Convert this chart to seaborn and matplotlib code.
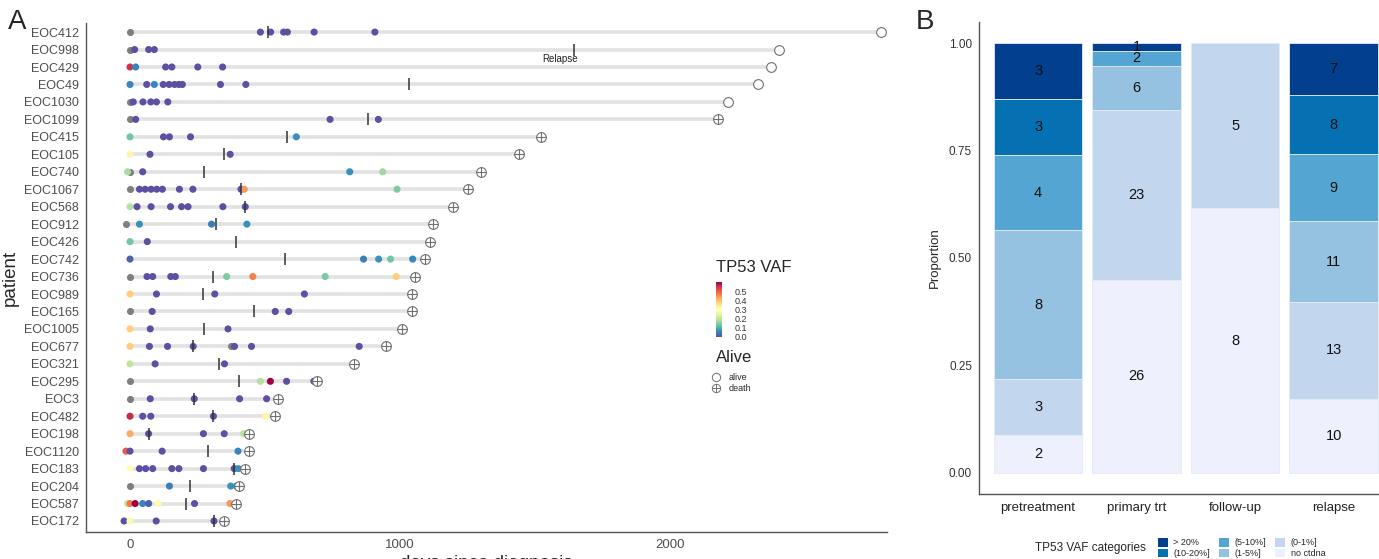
import numpy as np
import pandas as pd
import matplotlib
matplotlib.use('Agg')
import matplotlib.pyplot as plt
import seaborn as sns
from matplotlib.lines import Line2D
from matplotlib.patches import Patch
from matplotlib.colors import Normalize
from matplotlib.cm import ScalarMappable

nan = np.nan

# ---- panel A: per-patient timelines ----
patients = ['EOC412', 'EOC998', 'EOC429', 'EOC49', 'EOC1030', 'EOC1099', 'EOC415',
            'EOC105', 'EOC740', 'EOC1067', 'EOC568', 'EOC912', 'EOC426', 'EOC742',
            'EOC736', 'EOC989', 'EOC165', 'EOC1005', 'EOC677', 'EOC321', 'EOC295',
            'EOC3', 'EOC482', 'EOC198', 'EOC1120', 'EOC183', 'EOC204', 'EOC587', 'EOC172']
followup_days = [2780, 2405, 2376, 2327, 2214, 2177, 1522, 1442, 1301, 1252, 1198, 1124,
                 1113, 1092, 1056, 1043, 1045, 1009, 947, 830, 693, 550, 537, 442, 442,
                 426, 403, 394, 348]
status = ['alive'] * 5 + ['death'] * 24
relapse_days = [512, 1644, nan, 1032, nan, 882, 582, 349, 273, 411, 427, 317, 392, 574,
                309, 271, 460, 275, 234, 330, 403, 238, 309, 69, 288, 386, 224, 209, 311]

sample_days = [
    [0, 483, 521, 569, 583, 682, 907],
    [0, 17, 69, 90],
    [0, 21, 132, 155, 251, 343],
    [0, 62, 90, 123, 145, 165, 181, 194, 335, 429],
    [0, 12, 48, 77, 98, 140],
    [0, 21, 741, 920],
    [0, 124, 146, 224, 616],
    [0, 74, 371],
    [-9, 0, 47, 814, 936],
    [0, 35, 56, 78, 99, 120, 183, 233, 411, 423, 989],
    [0, 26, 78, 150, 191, 215, 344, 427],
    [-15, 35, 302, 433],
    [0, 64],
    [0, 865, 921, 965, 1047],
    [0, 63, 84, 151, 168, 358, 455, 723, 986],
    [0, 98, 314, 646],
    [0, 82, 538, 588],
    [0, 75, 363],
    [0, 72, 139, 234, 374, 387, 450, 849],
    [0, 93, 350],
    [0, 483, 520, 580, 681],
    [0, 75, 238, 406, 506],
    [0, 47, 77, 309, 502],
    [0, 69, 272, 349, 421],
    [-15, 0, 119, 400],
    [0, 35, 58, 84, 155, 181, 272, 386, 401],
    [0, 146, 373, 394],
    [-9, 0, 19, 47, 69, 104, 239, 370],
    [-22, 0, 97, 311],
]
sample_vaf = [
    [nan, 0, 0, 0, 0, 0, 0],
    [nan, 0, 0, 0],
    [0.55, 0.06, 0, 0, 0, 0],
    [0.06, 0, 0.06, 0, 0, 0, 0, 0, 0, 0],
    [nan, 0, 0, 0, 0, 0],
    [nan, 0, 0, 0],
    [0.13, 0, 0, 0, 0.07],
    [0.32, 0, 0],
    [0.18, nan, 0, 0.07, 0.17],
    [nan, 0, 0, 0, 0, 0, 0, 0, 0, 0.44, 0.14],
    [0.19, 0, 0, 0, 0, 0, 0, 0],
    [nan, 0.07, 0.05, 0.07],
    [0.13, 0],
    [0.02, 0.05, 0.07, 0.13, 0.06],
    [nan, 0, 0, 0, 0, 0.14, 0.46, 0.14, 0.38],
    [0.38, 0, 0, 0],
    [nan, 0, 0, 0],
    [0.38, 0, 0],
    [0.38, 0, 0, 0, nan, 0, 0, 0],
    [0.2, 0, 0],
    [nan, 0.19, 0.6, 0, 0],
    [nan, 0, 0, 0, 0],
    [0.56, 0, 0, 0, 0.32],
    [0.42, 0, 0, 0, 0.19],
    [0.5, 0, 0, 0.06],
    [0.3, 0, 0, 0, 0, 0, 0, 0, 0.07],
    [nan, 0.05, 0.07, 0.07],
    [0.2, 0.47, 0.6, 0.06, 0.02, 0.31, 0, 0.44],
    [0, 0.28, 0, 0],
]

# ---- panel B: VAF categories per phase ----
phases = ['pretreatment', 'primary trt', 'follow-up', 'relapse']
vaf_cats = ['> 20%', '(10-20%]', '(5-10%]', '(1-5%]', '(0-1%]', 'no ctdna']
cat_colors = ['#023f8e', '#0570b2', '#55a5d2', '#94c2e0', '#c2d6ee', '#eef1fd']
n_gt20 = [3, 1, 0, 7]
n_10_20 = [3, 0, 0, 8]
n_5_10 = [4, 2, 0, 9]
n_1_5 = [8, 6, 0, 11]
n_0_1 = [3, 23, 5, 13]
n_none = [2, 26, 8, 10]

sns.set_theme(style='white')
plt.rcParams['font.family'] = ['Liberation Sans', 'DejaVu Sans']

W, H = 1379, 559
fig = plt.figure(figsize=(W / 100, H / 100), dpi=100)

def fx(px):
    return px / W

def fy(py):
    return 1 - py / H

axA = fig.add_axes([fx(86), fy(532), fx(887 - 86), (532 - 23) / H])
axB = fig.add_axes([fx(979), fy(494), fx(1379 - 979) + 0.01, (494 - 22) / H])

rows = np.arange(len(patients))
samples = pd.DataFrame({
    'patient': np.repeat(patients, [len(d) for d in sample_days]),
    'day': np.concatenate(sample_days),
    'vaf': np.concatenate(sample_vaf),
})
samples['row'] = samples['patient'].map({p: i for i, p in enumerate(patients)})

axA.hlines(rows, 0, followup_days, color='#e2e2e2', lw=2.6, zorder=1)
sns.scatterplot(data=samples[samples['vaf'].isna()], x='day', y='row', color='#7f7f7f',
                s=26, linewidth=0, ax=axA, zorder=3)
sns.scatterplot(data=samples.dropna(), x='day', y='row', hue='vaf', palette='Spectral_r',
                hue_norm=(0, 0.6), s=26, linewidth=0, legend=False, ax=axA, zorder=3)
axA.plot(relapse_days, rows, ls='none', marker='|', ms=8, mew=1.1, color='#333333', zorder=4)

fu = np.array(followup_days)
st = np.array(status)
axA.plot(fu, rows, ls='none', marker='o', ms=7, mfc='white', mec='#707070', mew=0.8, zorder=5)
dead = st == 'death'
axA.plot(fu[dead], rows[dead], ls='none', marker='+', ms=7, mec='#707070', mew=0.8, zorder=6)
axA.text(1594, 1.55, 'Relapse', ha='center', va='center', fontsize=7, color='#222222')

axA.set_xlim(-163, 2804)
axA.set_ylim(28.63, -0.52)
axA.set_yticks(rows)
axA.set_yticklabels(patients)
axA.set_xticks([0, 1000, 2000])
axA.tick_params(axis='y', labelsize=9, colors='#4d4d4d', length=3, width=0.8, pad=2)
axA.tick_params(axis='x', labelsize=9.5, colors='#4d4d4d', length=3, width=0.8, pad=2)
axA.set_ylabel('patient', fontsize=13.5, labelpad=4)
axA.set_xlabel('days since diagnosis', fontsize=13.5, labelpad=3)
for s in ['top', 'right']:
    axA.spines[s].set_visible(False)
for s in ['left', 'bottom']:
    axA.spines[s].set_color('#555555')
    axA.spines[s].set_linewidth(1.0)

# colour legend
fig.text(fx(716), fy(268), 'TP53 VAF', fontsize=12, va='center', ha='left')
cax = fig.add_axes([fx(716), fy(337), fx(6), 55 / H])
sm = ScalarMappable(norm=Normalize(0, 0.61), cmap='Spectral_r')
cb = fig.colorbar(sm, cax=cax, ticks=[0, 0.1, 0.2, 0.3, 0.4, 0.5])
cb.outline.set_visible(False)
cb.ax.set_yticklabels(['0.0', '0.1', '0.2', '0.3', '0.4', '0.5'])
cax.tick_params(length=0, labelsize=6.5, pad=9, colors='#333333')

fig.text(fx(716), fy(358), 'Alive', fontsize=12, va='center', ha='left')
h_alive = Line2D([], [], ls='none', marker='o', ms=6, mfc='white', mec='#707070', mew=0.7)
h_dead = (Line2D([], [], ls='none', marker='o', ms=6, mfc='white', mec='#707070', mew=0.7),
          Line2D([], [], ls='none', marker='+', ms=6, mec='#707070', mew=0.7))
fig.legend([h_alive, h_dead], ['alive', 'death'], loc='upper left',
           bbox_to_anchor=(fx(711), fy(373)), frameon=False, fontsize=6.5,
           handlelength=1.0, handletextpad=0.9, labelspacing=0.2,
           borderaxespad=0, borderpad=0)

# ---- panel B ----
count_cols = [n_gt20, n_10_20, n_5_10, n_1_5, n_0_1, n_none]
bars = pd.DataFrame({
    'phase': np.tile(phases, len(vaf_cats)),
    'cat': np.repeat(vaf_cats, len(phases)),
    'n': np.concatenate(count_cols),
})
bars['phase'] = pd.Categorical(bars['phase'], categories=phases, ordered=True)
sns.histplot(data=bars, x='phase', hue='cat', weights='n', multiple='fill', discrete=True,
             shrink=0.9, hue_order=vaf_cats, palette=cat_colors, alpha=1,
             edgecolor='#e4ecf8', linewidth=0.6, legend=False, ax=axB)

# count labels in the middle of each segment
stack = np.array(count_cols[::-1], dtype=float)   # bottom to top
totals = stack.sum(axis=0)
tops = np.cumsum(stack, axis=0) / totals
mids = tops - stack / totals / 2
for ci in range(stack.shape[0]):
    for pi in range(len(phases)):
        if stack[ci, pi] > 0:
            axB.text(pi, mids[ci, pi], str(int(stack[ci, pi])), ha='center', va='center',
                     fontsize=10.5, color='#111111')

axB.set_xlim(-0.6, 3.6)
axB.set_ylim(-0.05, 1.05)
axB.set_yticks([0, 0.25, 0.5, 0.75, 1.0])
axB.set_yticklabels(['0.00', '0.25', '0.50', '0.75', '1.00'])
axB.set_xticks(range(len(phases)))
axB.set_xticklabels(phases)
axB.set_xlabel('')
axB.set_ylabel('Proportion', fontsize=9.5, labelpad=6)
axB.tick_params(axis='y', labelsize=8.5, colors='#333333', length=3, width=0.8, pad=2)
axB.tick_params(axis='x', labelsize=9.5, colors='#222222', length=3, width=0.8, pad=3)
for s in ['top', 'right']:
    axB.spines[s].set_visible(False)
for s in ['left', 'bottom']:
    axB.spines[s].set_color('#555555')
    axB.spines[s].set_linewidth(1.0)

fig.text(fx(1035), fy(548), 'TP53 VAF categories', fontsize=8.5, va='center', ha='left')
handles = [Patch(facecolor=c, edgecolor='none', label=l) for c, l in zip(cat_colors, vaf_cats)]
fig.legend(handles=handles, ncol=3, loc='center left', bbox_to_anchor=(fx(1158), fy(548)),
           frameon=False, fontsize=6.5, handlelength=1.1, handleheight=1.1,
           handletextpad=0.6, columnspacing=1.0, labelspacing=0.15,
           borderaxespad=0, borderpad=0)

fig.text(fx(8), fy(22), 'A', fontsize=20, va='center', ha='left')
fig.text(fx(916), fy(22), 'B', fontsize=20, va='center', ha='left')

plt.savefig('out.png', dpi=100)
